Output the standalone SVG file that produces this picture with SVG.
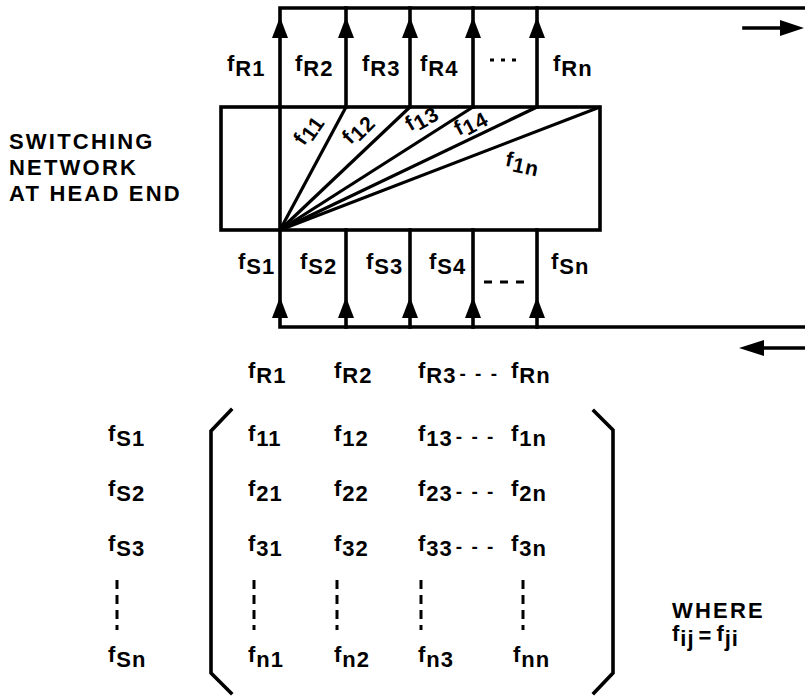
<svg xmlns="http://www.w3.org/2000/svg" width="805" height="696" viewBox="0 0 805 696">
<style>
.ln{stroke:#000;stroke-width:3.6;fill:none;stroke-linecap:square}
.fan{stroke:#000;stroke-width:3.2;fill:none}
.dv{stroke:#000;stroke-width:3;fill:none;stroke-dasharray:9 6}
.t{font-family:"Liberation Sans",Arial,sans-serif;font-weight:bold;font-size:22px;letter-spacing:1px;fill:#000}
.b{font-size:21px}
.cap{font-size:22px;letter-spacing:2.2px}
.dash{font-size:19px;letter-spacing:2px}
</style>
<defs>
<path id="up" d="M0,0 L8,21 L-8,21 Z" fill="#000"/>
</defs>
<rect width="805" height="696" fill="#fff"/>

<g id="connectors">
  <polyline class="ln" points="805,8 280,8 280,327 805,327"/>
  <line class="ln" x1="346" y1="8" x2="346" y2="107"/>
  <line class="ln" x1="410" y1="8" x2="410" y2="107"/>
  <line class="ln" x1="473" y1="8" x2="473" y2="107"/>
  <line class="ln" x1="537" y1="8" x2="537" y2="107"/>
  <line class="ln" x1="346" y1="230" x2="346" y2="327"/>
  <line class="ln" x1="410" y1="230" x2="410" y2="327"/>
  <line class="ln" x1="473" y1="230" x2="473" y2="327"/>
  <line class="ln" x1="537" y1="230" x2="537" y2="327"/>
  <use href="#up" x="280" y="17"/>
  <use href="#up" x="346" y="17"/>
  <use href="#up" x="410" y="17"/>
  <use href="#up" x="473" y="17"/>
  <use href="#up" x="537" y="17"/>
  <use href="#up" x="280" y="297"/>
  <use href="#up" x="346" y="297"/>
  <use href="#up" x="410" y="297"/>
  <use href="#up" x="473" y="297"/>
  <use href="#up" x="537" y="297"/>
  <line class="fan" x1="280" y1="230" x2="346" y2="107"/>
  <line class="fan" x1="280" y1="230" x2="410" y2="107"/>
  <line class="fan" x1="280" y1="230" x2="473" y2="107"/>
  <line class="fan" x1="280" y1="230" x2="537" y2="107"/>
  <line class="fan" x1="280" y1="230" x2="600" y2="107"/>
  <line class="ln" x1="744" y1="28" x2="785" y2="28"/>
  <path d="M804,28 L780,20 L780,36 Z" fill="#000"/>
  <line class="ln" x1="760" y1="348" x2="805" y2="348"/>
  <path d="M739,348 L764,340 L764,356 Z" fill="#000"/>
  <line x1="490" y1="60" x2="516" y2="60" stroke="#000" stroke-width="3" stroke-dasharray="4 7"/>
  <line x1="484" y1="282" x2="525" y2="282" stroke="#000" stroke-width="3" stroke-dasharray="8 8"/>
</g>

<g id="switching-network">
  <rect class="ln" x="221" y="107" width="379" height="123"/>
  <text class="t cap" x="9" y="149">SWITCHING</text>
  <text class="t cap" x="9" y="175">NETWORK</text>
  <text class="t cap" x="9" y="201">AT HEAD END</text>
  <text class="t b" transform="translate(310,131) rotate(-55)" x="-16" y="4">f<tspan dy="4">11</tspan></text>
  <text class="t b" transform="translate(359,131) rotate(-45)" x="-16" y="4">f<tspan dy="4">12</tspan></text>
  <text class="t b" transform="translate(422,120) rotate(-30)" x="-16" y="4">f<tspan dy="4">13</tspan></text>
  <text class="t b" transform="translate(471,125) rotate(-28)" x="-16" y="4">f<tspan dy="4">14</tspan></text>
  <text class="t b" transform="translate(521,165) rotate(12)" x="-16" y="4">f<tspan dy="4">1n</tspan></text>
</g>

<g id="receive-labels">
  <text class="t" x="227" y="71">f<tspan dy="5">R1</tspan></text>
  <text class="t" x="295" y="71">f<tspan dy="5">R2</tspan></text>
  <text class="t" x="362" y="71">f<tspan dy="5">R3</tspan></text>
  <text class="t" x="420" y="71">f<tspan dy="5">R4</tspan></text>
  <text class="t" x="553" y="71">f<tspan dy="5">Rn</tspan></text>
</g>

<g id="send-labels">
  <text class="t" x="238" y="269">f<tspan dy="5">S1</tspan></text>
  <text class="t" x="300" y="269">f<tspan dy="5">S2</tspan></text>
  <text class="t" x="366" y="269">f<tspan dy="5">S3</tspan></text>
  <text class="t" x="429" y="269">f<tspan dy="5">S4</tspan></text>
  <text class="t" x="551" y="269">f<tspan dy="5">Sn</tspan></text>
</g>

<g id="matrix">
  <text class="t" x="248" y="378">f<tspan dy="5">R1</tspan></text>
  <text class="t" x="334" y="378">f<tspan dy="5">R2</tspan></text>
  <text class="t" x="418" y="378">f<tspan dy="5">R3</tspan><tspan class="dash" dx="3" dy="-3">- - -</tspan></text>
  <text class="t" x="511" y="378">f<tspan dy="5">Rn</tspan></text>

  <path class="ln" d="M231,410 L211,431 L211,673 L231,693"/>
  <path class="ln" d="M594,411 L613,430 L613,673 L594,693"/>

  <text class="t" x="108" y="441">f<tspan dy="5">S1</tspan></text>
  <text class="t" x="108" y="496">f<tspan dy="5">S2</tspan></text>
  <text class="t" x="108" y="551">f<tspan dy="5">S3</tspan></text>
  <text class="t" x="108" y="662">f<tspan dy="5">Sn</tspan></text>

  <text class="t" x="248" y="441">f<tspan dy="5">11</tspan></text>
  <text class="t" x="334" y="441">f<tspan dy="5">12</tspan></text>
  <text class="t" x="418" y="441">f<tspan dy="5">13</tspan><tspan class="dash" dx="3" dy="-3">- - -</tspan></text>
  <text class="t" x="511" y="441">f<tspan dy="5">1n</tspan></text>

  <text class="t" x="248" y="496">f<tspan dy="5">21</tspan></text>
  <text class="t" x="334" y="496">f<tspan dy="5">22</tspan></text>
  <text class="t" x="418" y="496">f<tspan dy="5">23</tspan><tspan class="dash" dx="3" dy="-3">- - -</tspan></text>
  <text class="t" x="511" y="496">f<tspan dy="5">2n</tspan></text>

  <text class="t" x="248" y="551">f<tspan dy="5">31</tspan></text>
  <text class="t" x="334" y="551">f<tspan dy="5">32</tspan></text>
  <text class="t" x="418" y="551">f<tspan dy="5">33</tspan><tspan class="dash" dx="3" dy="-3">- - -</tspan></text>
  <text class="t" x="511" y="551">f<tspan dy="5">3n</tspan></text>

  <line class="dv" x1="117" y1="580" x2="117" y2="630"/>
  <line class="dv" x1="254" y1="580" x2="254" y2="630"/>
  <line class="dv" x1="337" y1="580" x2="337" y2="630"/>
  <line class="dv" x1="421" y1="580" x2="421" y2="630"/>
  <line class="dv" x1="523" y1="580" x2="523" y2="630"/>

  <text class="t" x="248" y="662">f<tspan dy="5">n1</tspan></text>
  <text class="t" x="334" y="662">f<tspan dy="5">n2</tspan></text>
  <text class="t" x="418" y="662">f<tspan dy="5">n3</tspan></text>
  <text class="t" x="513" y="662">f<tspan dy="5">nn</tspan></text>
</g>

<g id="note">
  <text class="t cap" x="672" y="618">WHERE</text>
  <text class="t" x="672" y="641">f<tspan dy="5">ij</tspan><tspan dx="4" dy="-3">=</tspan><tspan dx="4" dy="-2">f</tspan><tspan dy="5">ji</tspan></text>
</g>
</svg>
